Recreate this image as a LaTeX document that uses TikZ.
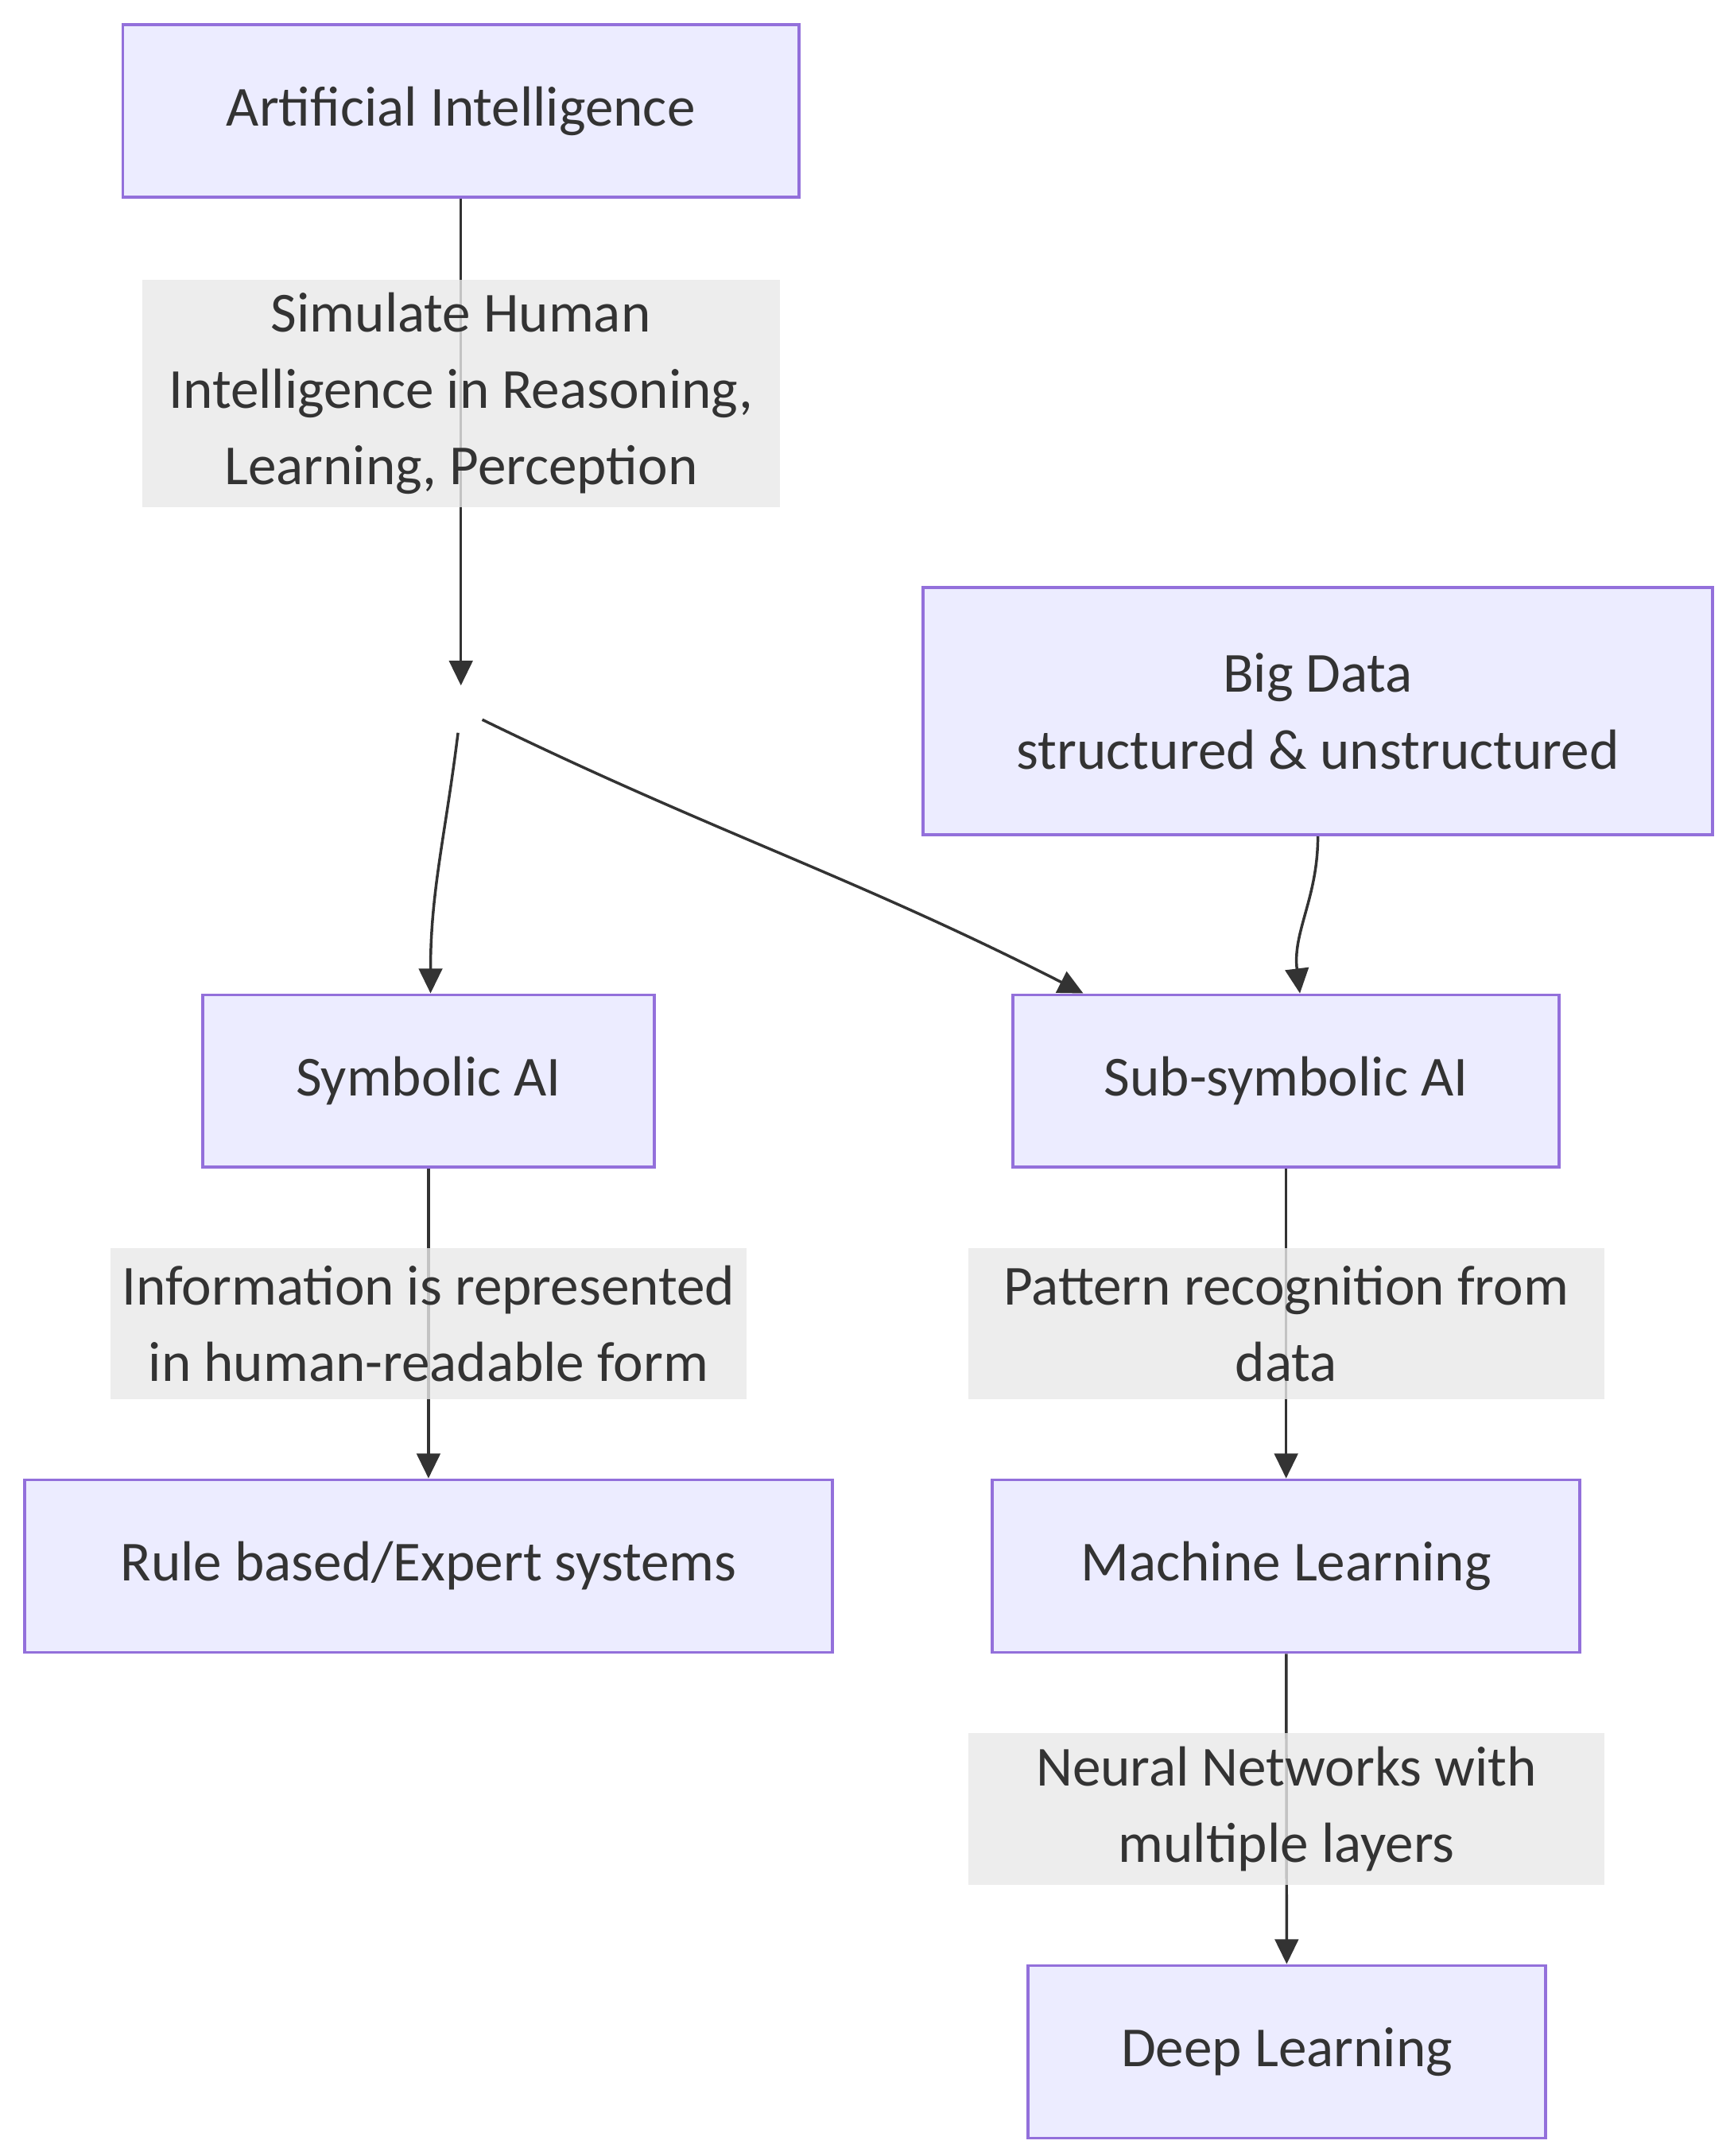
\documentclass[tikz,border=0pt]{standalone}
\usepackage{fontspec}
\setmainfont{Carlito}
\usetikzlibrary{arrows.meta}
\definecolor{boxfill}{HTML}{ECECFF}
\definecolor{boxline}{HTML}{9370DB}
\definecolor{ink}{HTML}{333333}
\definecolor{lblfill}{HTML}{E8E8E8}
\begin{document}
\begin{tikzpicture}
		[x=1pt,y=-1pt,
		font=\fontsize{41}{55.5}\selectfont,text=ink,
		box/.style={draw=boxline,fill=boxfill,line width=2.2pt,inner sep=0pt,align=center,minimum height=125pt},
		lbl/.style={fill=lblfill,fill opacity=.8,text opacity=1,inner sep=0pt,align=center,minimum height=110pt},
		arr/.style={draw=ink,line width=2pt,-{Triangle[length=18pt,width=17pt]}},]
		\useasboundingbox(0,0)rectangle(1256,1562.5);
		\node[box,minimum width=490pt](ai)at(334,80.5){Artificial Intelligence};
		\node[circle,minimum size=34pt,inner sep=0pt](split)at(334,514){};
		\node[box,minimum width=572pt,minimum height=179pt](big)at(955,515.5){Big Data\\structured \& unstructured};
		\node[box,minimum width=327pt](sym)at(310.5,783.5){Symbolic AI};
		\node[box,minimum width=396pt](sub)at(932,783.5){Sub-symbolic AI};
		\node[box,minimum width=585pt](rule)at(310.5,1135){Rule based/Expert systems};
		\node[box,minimum width=426pt](ml)at(932,1135){Machine Learning};
		\node[box,minimum width=375pt](dl)at(932.5,1487){Deep Learning};
		\draw[arr](ai)--node[lbl,pos=.4,minimum width=462pt,minimum height=165pt]{Simulate Human\\Intelligence in Reasoning,\\Learning, Perception}(split);
		\draw[arr](split)to[out=-97,in=90]([xshift=1.5pt]sym.north);
		\draw[arr](split)to[out=-26,in=153]([xshift=-147pt]sub.north);
		\draw[arr](big)to[out=-90,in=97]([xshift=10pt]sub.north);
		\draw[arr](sym)--node[lbl,minimum width=461pt]{Information is represented\\in human-readable form}(rule);
		\draw[arr](sub)--node[lbl,minimum width=461pt]{Pattern recognition from\\data}(ml);
		\draw[arr](ml)--node[lbl,minimum width=461pt]{Neural Networks with\\multiple layers}(dl);
	\end{tikzpicture}
\end{document}
